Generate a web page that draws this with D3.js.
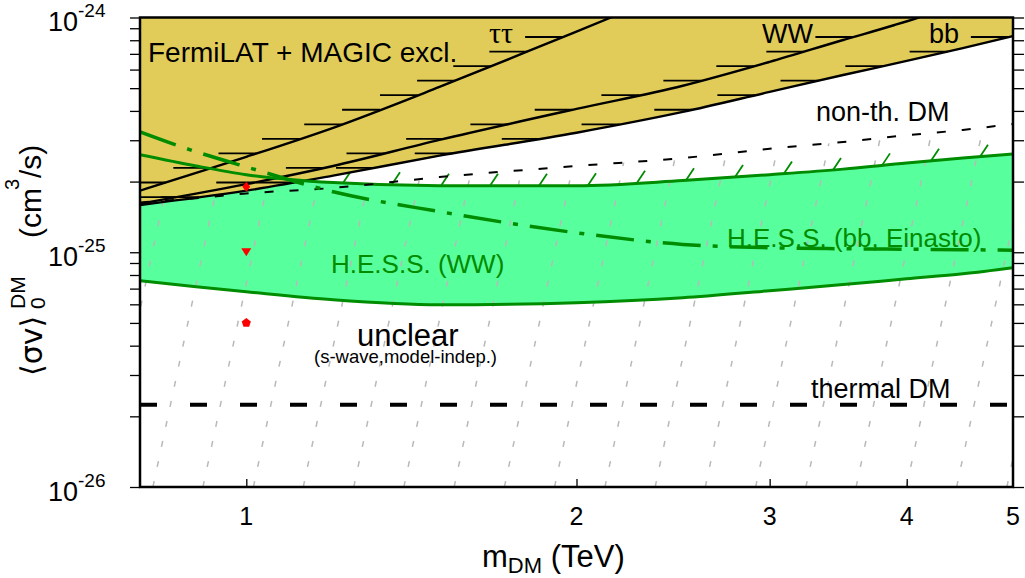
<!DOCTYPE html>
<html><head><meta charset="utf-8">
<script src="https://cdn.jsdelivr.net/npm/d3@7"></script>
<style>
html,body{margin:0;padding:0;background:#fff;}
svg{display:block;font-family:"Liberation Sans",Arial,Helvetica,sans-serif;}
</style></head><body>
<svg id="chart" width="1025" height="578"></svg>
<script>
// ---------------- data ----------------
const xTickValues = [1, 2, 3, 4, 5];
const xTickLabels = ["1", "2", "3", "4", "5"];
const yDecadeValues = [1e-26, 1e-25, 1e-24];
const yDecadeExponents = ["-26", "-25", "-24"];

// FermiLAT + MAGIC exclusion limits
const tautauMass  = [0.8, 0.9, 1.0, 1.2, 1.5, 1.8, 2.15, 2.25];
const tautauSigma = [1.83e-25, 2.18e-25, 2.55e-25, 3.39e-25, 5.06e-25, 7.13e-25, 1.0e-24, 1.09e-24];
const wwMass  = [0.8, 1.0, 1.2, 1.5, 2.0, 2.5, 3.0, 3.5, 3.9, 4.1, 4.3];
const wwSigma = [1.61e-25, 1.95e-25, 2.33e-25, 3.01e-25, 4.08e-25, 5.12e-25, 6.47e-25, 8.02e-25, 9.29e-25, 1.0e-24, 1.08e-24];
const bbMass  = [0.8, 1.0, 1.2, 1.5, 2.0, 2.5, 3.0, 3.5, 4.0, 4.5, 5.0];
const bbSigma = [1.59e-25, 1.83e-25, 2.12e-25, 2.58e-25, 3.23e-25, 3.96e-25, 4.82e-25, 5.69e-25, 6.53e-25, 7.41e-25, 8.34e-25];

// common mass grid for H.E.S.S. curves and the non-thermal boundary
const gridMass = [0.8, 0.9, 1.0, 1.2, 1.5, 2.0, 2.5, 3.0, 3.5, 4.0, 4.5, 5.0];
const hessWWUpper = [2.60e-25, 2.33e-25, 2.14e-25, 1.98e-25, 1.92e-25, 1.92e-25, 2.02e-25, 2.14e-25, 2.26e-25, 2.40e-25, 2.52e-25, 2.62e-25];
const hessWWLower = [7.57e-26, 7.13e-26, 6.79e-26, 6.28e-26, 5.98e-26, 6.10e-26, 6.40e-26, 6.86e-26, 7.28e-26, 7.71e-26, 8.10e-26, 8.60e-26];
const hessBBEinasto = [3.26e-25, 2.68e-25, 2.31e-25, 1.81e-25, 1.49e-25, 1.21e-25, 1.08e-25, 1.045e-25, 1.035e-25, 1.03e-25, 1.026e-25, 1.02e-25];
const nonThermal = [1.63e-25, 1.70e-25, 1.78e-25, 1.88e-25, 2.09e-25, 2.33e-25, 2.52e-25, 2.76e-25, 2.95e-25, 3.15e-25, 3.32e-25, 3.52e-25];
const thermalSigma = 2.24e-26;

// grey slanted dashed lines: mass at 1e-26 (bottom) and at 1e-24 (top)
const greyBottomMass = [0.665, 0.739, 0.822, 0.913, 1.015, 1.127, 1.253, 1.392, 1.547, 1.719, 1.910, 2.123, 2.359, 2.621, 2.913, 3.237, 3.597, 3.998, 4.442, 4.936];
const greyTopMass    = [0.820, 0.912, 1.014, 1.126, 1.252, 1.390, 1.546, 1.717, 1.908, 2.121, 2.356, 2.619, 2.910, 3.233, 3.594, 3.993, 4.437, 4.932, 5.480, 6.089];

// red benchmark points
const markerMass  = [1.0, 1.0, 1.0];
const markerSigma = [1.9e-25, 1.0e-25, 5.0e-26];
const markerShape = ["diamond", "triangle", "pentagon"];

// ---------------- setup ----------------
const M = {left: 140, right: 1013, top: 17.5, bottom: 487};
const x = d3.scaleLog().domain([0.8, 5]).range([M.left, M.right]);
const y = d3.scaleLog().domain([1e-26, 1e-24]).range([M.bottom, M.top]);
const svg = d3.select("#chart");
const defs = svg.append("defs");

const C = {
  yellow: "#e2cc59", mint: "#58ff9d", green: "#008c00", grey: "#b9b9b9", red: "#ff0000"
};

const pts = (ms, ss) => ms.map((m, i) => [x(m), y(ss[i])]);
const line = d3.line().curve(d3.curveMonotoneX);

const ttP = pts(tautauMass, tautauSigma);
const wwP = pts(wwMass, wwSigma);
const bbP = pts(bbMass, bbSigma);
const upP = pts(gridMass, hessWWUpper);
const loP = pts(gridMass, hessWWLower);
const einP = pts(gridMass, hessBBEinasto);
const ntP = pts(gridMass, nonThermal);

defs.append("clipPath").attr("id", "plotClip").append("rect")
  .attr("x", M.left).attr("y", M.top).attr("width", M.right - M.left).attr("height", M.bottom - M.top);
defs.append("clipPath").attr("id", "belowNT").append("path")
  .attr("d", line(ntP) + `L${M.right},${M.bottom}L${M.left},${M.bottom}Z`);

// helpers: linear interpolation in pixel space
function yAt(P, px) {
  for (let i = 0; i < P.length - 1; i++) {
    const [x0, y0] = P[i], [x1, y1] = P[i + 1];
    if (px >= x0 && px <= x1) return y0 + (y1 - y0) * (px - x0) / (x1 - x0);
  }
  return null;
}
function xAt(P, py) {
  for (let i = 0; i < P.length - 1; i++) {
    const [x0, y0] = P[i], [x1, y1] = P[i + 1];
    if ((py <= y0 && py >= y1) || (py >= y0 && py <= y1)) return x0 + (x1 - x0) * (py - y0) / (y1 - y0);
  }
  return null;
}

const plot = svg.append("g").attr("clip-path", "url(#plotClip)");

// H.E.S.S. WW band
const band = gridMass.map((m, i) => [x(m), y(hessWWUpper[i]), y(hessWWLower[i])]);
plot.append("path")
  .attr("d", d3.area().x(d => d[0]).y0(d => d[2]).y1(d => d[1]).curve(d3.curveMonotoneX)(band))
  .attr("fill", C.mint);

// grey slanted dashed lines
const greyG = plot.append("g").attr("clip-path", "url(#belowNT)");
greyBottomMass.forEach((mb, i) => {
  greyG.append("path")
    .attr("d", d3.line()([[x(mb), y(1e-26)], [x(greyTopMass[i]), y(1e-24)]]))
    .attr("stroke", C.grey).attr("stroke-width", 1.5).attr("fill", "none")
    .attr("stroke-dasharray", "6,14.5");
});

// green exclusion hatching above the band
d3.range(147, M.right, 49).forEach(hx => {
  const hy = yAt(upP, hx);
  if (hy == null) return;
  plot.append("line").attr("x1", hx).attr("y1", hy).attr("x2", hx + 8).attr("y2", hy - 12)
    .attr("stroke", C.green).attr("stroke-width", 1.8);
});

// yellow excluded region
plot.append("path")
  .attr("d", d3.area().x(d => d[0]).y0(d => d[1]).y1(M.top).curve(d3.curveMonotoneX)(bbP))
  .attr("fill", C.yellow);

// black limit lines + hatch marks
const hatchLevels = d3.range(13).map(k => y.invert(37 + 14.55 * k));
[ttP, wwP, bbP].forEach(P => {
  plot.append("path").attr("d", line(P)).attr("fill", "none")
    .attr("stroke", "#000").attr("stroke-width", 2.4);
  hatchLevels.forEach(s => {
    const py = y(s);
    const px = xAt(P, py);
    if (px == null) return;
    plot.append("line").attr("x1", px - 38).attr("x2", px).attr("y1", py).attr("y2", py)
      .attr("stroke", "#000").attr("stroke-width", 1.8);
  });
});

// H.E.S.S. solid boundaries
[upP, loP].forEach(P => plot.append("path").attr("d", line(P)).attr("fill", "none")
  .attr("stroke", C.green).attr("stroke-width", 3));

// non-thermal boundary
plot.append("path").attr("d", line(ntP)).attr("fill", "none")
  .attr("stroke", "#000").attr("stroke-width", 2).attr("stroke-dasharray", "9,16");

// thermal line
plot.append("path").attr("d", d3.line()([[x(0.8), y(thermalSigma)], [x(5), y(thermalSigma)]]))
  .attr("stroke", "#000").attr("stroke-width", 4).attr("stroke-dasharray", "17,33");

// H.E.S.S. bb Einasto dash-dot
plot.append("path").attr("d", line(einP)).attr("fill", "none")
  .attr("stroke", C.green).attr("stroke-width", 3.5).attr("stroke-dasharray", "38,12,5,12");

// markers
const shapes = {
  diamond: "M0,-5L4,0L0,5L-4,0Z",
  triangle: "M-5,-4L5,-4L0,4Z",
  pentagon: (() => { const r = 4.8; return "M" + d3.range(5).map(k => { const a = -Math.PI / 2 + k * 2 * Math.PI / 5; return [r * Math.cos(a), r * Math.sin(a)].join(","); }).join("L") + "Z"; })()
};
markerMass.forEach((m, i) => {
  svg.append("path").attr("d", shapes[markerShape[i]])
    .attr("transform", `translate(${x(m)},${y(markerSigma[i])})`).attr("fill", C.red);
});

// ---------------- text labels in the plot ----------------
function label(t, px, py, size, color, family) {
  return svg.append("text").attr("x", px).attr("y", py).attr("font-size", size)
    .attr("fill", color || "#000").attr("font-family", family || null).text(t);
}
label("FermiLAT + MAGIC excl.", 148, 62, 28);
label("ττ", 489, 43, 30, "#000", "Liberation Serif");
label("WW", 762, 43, 27);
label("bb", 929, 43, 27);
label("non-th. DM", 816, 121, 27);
label("H.E.S.S. (WW)", 331, 273, 26, C.green);
label("H.E.S.S. (bb, Einasto)", 727, 247, 26, C.green);
label("unclear", 357, 346, 31);
label("(s-wave,model-indep.)", 314, 363, 18.5);
label("thermal DM", 811, 398, 27);

// ---------------- axes ----------------
const yTicks = [];
[-26, -25].forEach(e => d3.range(1, 10).forEach(k => yTicks.push(k * Math.pow(10, e))));
yTicks.push(1e-24);

const axL = svg.append("g").attr("transform", `translate(${M.left},0)`)
  .call(d3.axisLeft(y).tickValues(yTicks).tickSize(10).tickFormat(""));
const axR = svg.append("g").attr("transform", `translate(${M.right},0)`)
  .call(d3.axisRight(y).tickValues(yTicks).tickSize(11).tickFormat(""));
const axB = svg.append("g").attr("transform", `translate(0,${M.bottom})`)
  .call(d3.axisBottom(x).tickValues(xTickValues.slice(0, 4)).tickSizeInner(-8).tickSizeOuter(0).tickFormat(""));
[axL, axR, axB].forEach(a => {
  a.select(".domain").remove();
  a.selectAll(".tick line").attr("stroke", "#000").attr("stroke-width", 1.3);
});

svg.append("rect").attr("x", M.left).attr("y", M.top).attr("width", M.right - M.left)
  .attr("height", M.bottom - M.top).attr("fill", "none").attr("stroke", "#000").attr("stroke-width", 2.5);

// x tick labels
xTickValues.forEach((v, i) => {
  svg.append("text").attr("x", x(v)).attr("y", 525).attr("text-anchor", "middle")
    .attr("font-size", 25).text(xTickLabels[i]);
});
// y tick labels
yDecadeValues.forEach((v, i) => {
  const t = svg.append("text").attr("x", 48).attr("y", y(v) + 13.5).attr("font-size", 27);
  t.append("tspan").text("10");
  t.append("tspan").attr("font-size", 19).attr("dy", -14).text(yDecadeExponents[i]);
});

// x axis title
const xt = svg.append("text").attr("x", 482).attr("y", 567).attr("font-size", 31);
xt.append("tspan").text("m");
xt.append("tspan").attr("font-size", 22).attr("dy", 6).text("DM");
xt.append("tspan").attr("dy", -6).text(" (TeV)");

// y axis title (rotated)
const yt = svg.append("g").attr("transform", "rotate(-90)");
yt.append("text").attr("x", -376).attr("y", 42).attr("font-size", 30).attr("font-family", "DejaVu Sans").text("⟨σv⟩");
yt.append("text").attr("x", -309).attr("y", 45).attr("font-size", 21).text("0");
yt.append("text").attr("x", -309).attr("y", 25).attr("font-size", 21).text("DM");
yt.append("text").attr("x", -238).attr("y", 41).attr("font-size", 30).text("(cm");
yt.append("text").attr("x", -190).attr("y", 19).attr("font-size", 20).text("3");
yt.append("text").attr("x", -178).attr("y", 41).attr("font-size", 30).text("/s)");
</script>
</body></html>
